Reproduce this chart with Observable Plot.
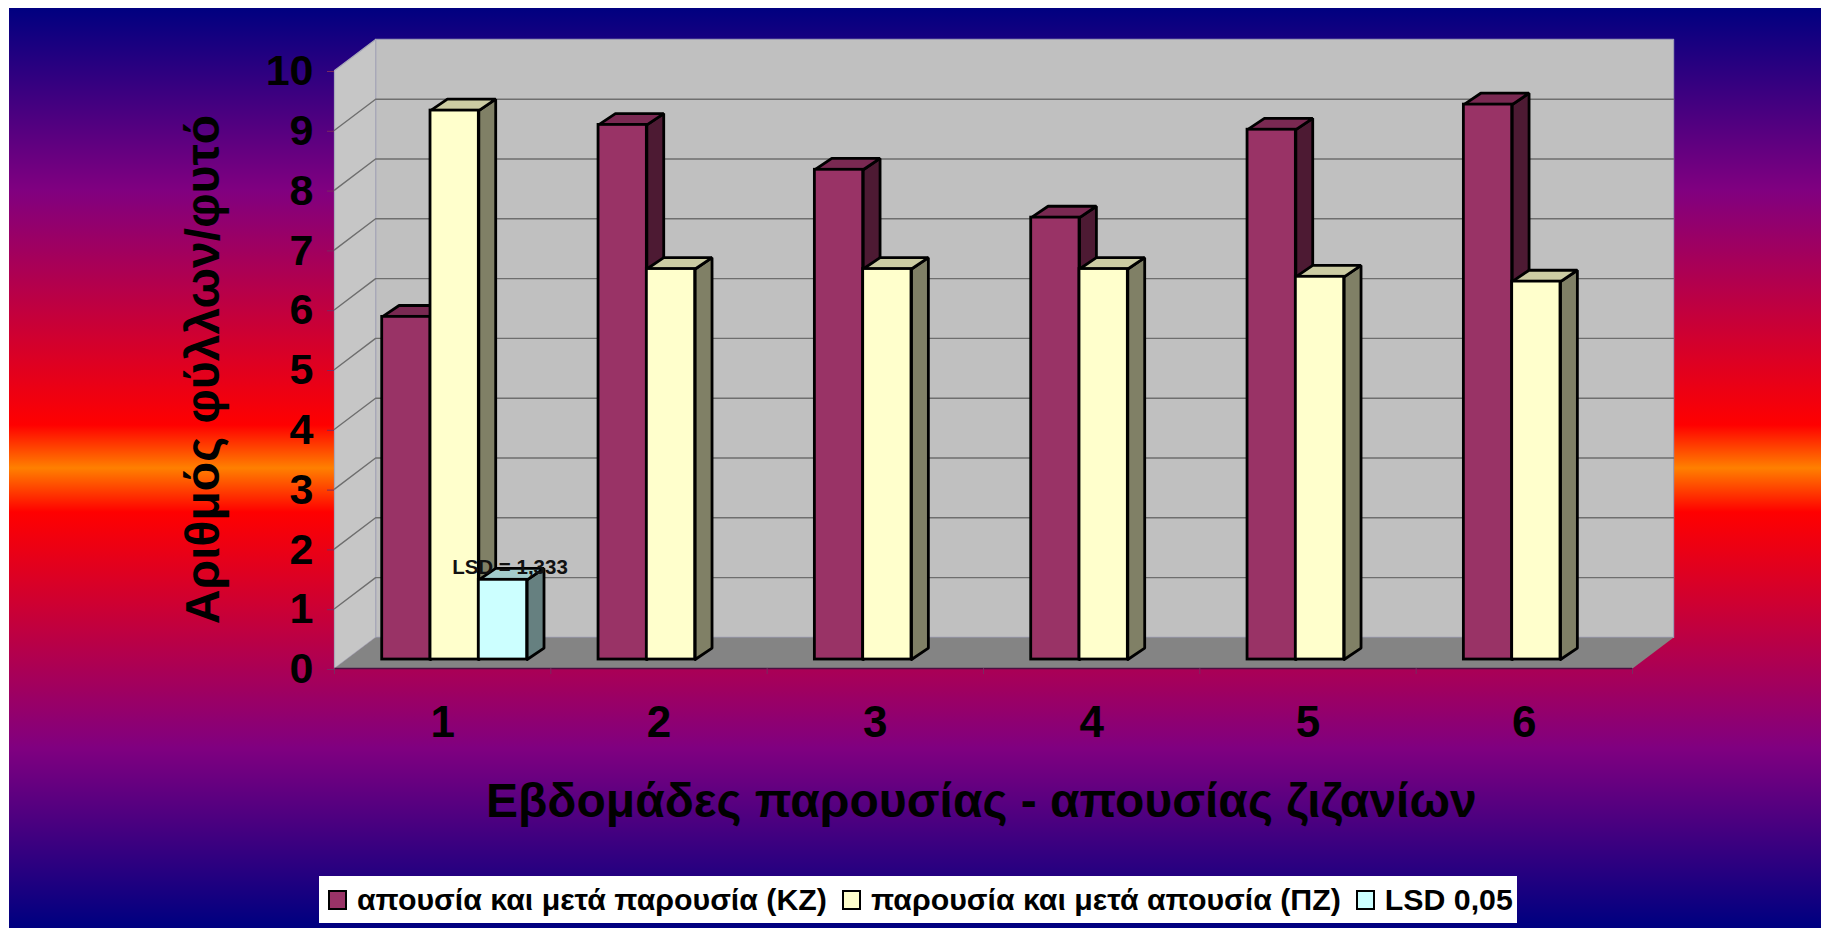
<!DOCTYPE html>
<html lang="el">
<head>
<meta charset="utf-8">
<script src="https://cdn.jsdelivr.net/npm/d3@7"></script>
<script src="https://cdn.jsdelivr.net/npm/@observablehq/plot@0.6"></script>
<style>
  html, body { margin: 0; padding: 0; overflow: hidden; width: 1821px; height: 928px; }
  body {
    background:
      linear-gradient(to bottom,
        #000080 8px, #800080 190px, #ff0000 425px, #ff8000 468px,
        #ff0000 512px, #800080 748px, #000080 925px) 9px 0 / 1812px 928px no-repeat,
      #ffffff;
    font-family: "Liberation Sans", Arial, sans-serif;
  }
  #top-edge { position: absolute; left: 0; top: 0; width: 1821px; height: 8px; background: #fff; }
  #chart { position: absolute; left: 0; top: 0; }
  #chart svg { background: transparent; display: block; }
  #legend {
    position: absolute; left: 319px; top: 876px; width: 1198px; height: 47px;
    background: #fff; box-sizing: border-box; display: flex; align-items: center;
    padding-left: 9px; font-weight: bold; font-size: 30.3px; color: #000; white-space: nowrap;
  }
  #legend .sw { width: 19px; height: 20px; box-sizing: border-box; border: 2.5px solid #000; margin-right: 10px; flex: none; }
  #legend .lab { margin-right: 15px; }
</style>
</head>
<body>
<div id="top-edge"></div>
<div id="chart"></div>
<div id="legend"></div>
<script>
// ---- values ----
const weeks = [1, 2, 3, 4, 5, 6];
const kzValues = [5.73, 8.94, 8.19, 7.39, 8.86, 9.28];
const pzValues = [9.18, 6.53, 6.53, 6.53, 6.40, 6.32];
const lsdValues = [1.333];
const yTicks = [0, 1, 2, 3, 4, 5, 6, 7, 8, 9, 10];
const seriesNames = ["απουσία και μετά παρουσία (ΚΖ)", "παρουσία και μετά απουσία (ΠΖ)", "LSD 0,05"];
const lsdLabel = "LSD = 1,333";
const yTitle = "Αριθμός φύλλων/φυτό";
const xTitle = "Εβδομάδες παρουσίας - απουσίας ζιζανίων";

// ---- styles ----
const frontColors = ["#993366", "#ffffcc", "#ccffff"];
const topColors = ["#7a2952", "#cccca3", "#a3cccc"];
const sideColors = ["#4d1a33", "#808066", "#668080"];
const wallColor = "#c0c0c0";
const floorColor = "#848484";
const gridColor = "#6e6e6e";

// ---- 3D geometry, in data units of the two scales ----
const wallDx = 0.19, wallDy = 0.52;      // depth of the chart box
const barOffX = 0.0555, barOffY = 0.15;  // bars stand mid-way in the box
const barDx = 0.078, barDy = 0.19;       // depth of a bar
const barW = 0.2233;
const groupGap = (1 - 3 * barW) / 2;

const seriesValues = [kzValues, pzValues, lsdValues];
const bars = seriesValues.flatMap((vals, s) => vals.map((v, i) => {
  const x1 = i + groupGap + s * barW + barOffX;
  return {s, week: weeks[i], v, x1, x2: x1 + barW, y1: barOffY, y2: v + barOffY};
}));

function poly(id, pts) { return pts.map(([x, y]) => ({id, x, y})); }
const sideFaces = bars.flatMap((b, k) => poly(k, [[b.x2, b.y1], [b.x2 + barDx, b.y1 + barDy], [b.x2 + barDx, b.y2 + barDy], [b.x2, b.y2], [b.x2, b.y1]]));
const topFaces = bars.flatMap((b, k) => poly(k, [[b.x1, b.y2], [b.x1 + barDx, b.y2 + barDy], [b.x2 + barDx, b.y2 + barDy], [b.x2, b.y2], [b.x1, b.y2]]));

const gridRows = yTicks.slice(1, -1);
const gridLines = gridRows.flatMap(t => poly(t, [[0, t], [wallDx, t + wallDy], [6 + wallDx, t + wallDy]]));

const barMarks = bars.flatMap((b, k) => {
  const common = {x: "x", y: "y", z: "id", stroke: "#000", strokeWidth: 2.8, strokeLinejoin: "miter"};
  return [
    Plot.line(sideFaces.filter(d => d.id === k), {...common, fill: sideColors[b.s]}),
    Plot.line(topFaces.filter(d => d.id === k), {...common, fill: topColors[b.s]}),
    Plot.rect([b], {x1: "x1", x2: "x2", y1: "y1", y2: "y2", fill: frontColors[b.s], stroke: "#000", strokeWidth: 2.8})
  ];
});

const plot = Plot.plot({
  width: 1821,
  height: 870,
  marginLeft: 334, marginRight: 189, marginTop: 70, marginBottom: 202,
  style: {background: "transparent", fontFamily: '"Liberation Sans", Arial, sans-serif', overflow: "visible"},
  x: {domain: [0, 6], axis: null},
  y: {domain: [0, 10], axis: null},
  marks: [
    // walls and floor
    Plot.line(poly(0, [[wallDx, wallDy], [6 + wallDx, wallDy], [6 + wallDx, 10 + wallDy], [wallDx, 10 + wallDy], [wallDx, wallDy]]),
      {x: "x", y: "y", fill: wallColor, stroke: "#9d9db5", strokeWidth: 1.2}),
    Plot.line(poly(1, [[0, 0], [wallDx, wallDy], [wallDx, 10 + wallDy], [0, 10], [0, 0]]),
      {x: "x", y: "y", fill: "#c6c6c6", stroke: "#a8a8b8", strokeWidth: 1.2}),
    Plot.line(gridLines, {x: "x", y: "y", z: "id", stroke: gridColor, strokeWidth: 1.4}),
    Plot.line(poly(2, [[0, 0], [wallDx, wallDy], [6 + wallDx, wallDy], [6, 0], [0, 0]]),
      {x: "x", y: "y", fill: floorColor, stroke: "none"}),
    Plot.ruleY([0], {x1: 0, x2: 6, stroke: "#4a1040", strokeWidth: 1.4}),

    // axes
    Plot.axisY({ticks: yTicks, tickFormat: d => d, tickSize: 7, tickPadding: 14, label: null, dy: 1,
      fontSize: 43, fontWeight: "bold", stroke: "#7a2a60", fill: "#000"}),
    Plot.axisX({ticks: d3.range(0, 7), tickFormat: () => "", tickSize: 6, label: null, stroke: "#7a2a60"}),
    Plot.text(weeks, {x: d => d - 0.5, y: 0, text: d => String(d), dy: 54, fontSize: 44, fontWeight: "bold", fill: "#000"}),

    // bars
    ...barMarks,

    // data label
    Plot.text([lsdValues[0]], {x: bars.find(b => b.s === 2).x1 + barW / 2, y: d => d + barOffY,
      text: () => lsdLabel, dy: -12, dx: 7, fontSize: 20.5, fontWeight: "bold", fill: "#111"}),

    // axis titles
    Plot.text([yTitle], {x: -0.606, y: 5, text: d => d, rotate: -90, fontSize: 48, fontWeight: "bold", fill: "#000"}),
    Plot.text([xTitle], {x: 2.99, y: 0, text: d => d, dy: 133, fontSize: 48, fontWeight: "bold", fill: "#000"})
  ]
});
document.getElementById("chart").appendChild(plot);

// legend
const legend = document.getElementById("legend");
seriesNames.forEach((name, i) => {
  const sw = document.createElement("span");
  sw.className = "sw";
  sw.style.background = frontColors[i];
  const lab = document.createElement("span");
  lab.className = "lab";
  lab.textContent = name;
  legend.append(sw, lab);
});
</script>
</body>
</html>
